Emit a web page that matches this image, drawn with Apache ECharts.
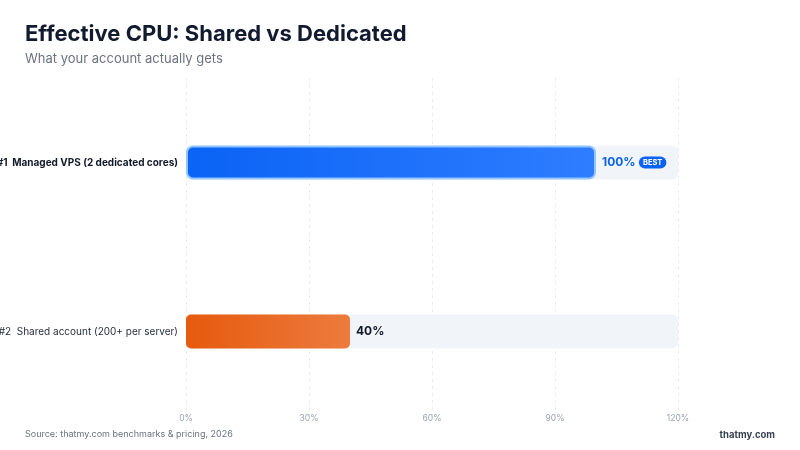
<!DOCTYPE html>
<html>
<head>
<meta charset="utf-8">
<script src="https://cdn.jsdelivr.net/npm/echarts@6/dist/echarts.min.js"></script>
<style>
  html, body { margin: 0; padding: 0; background: #fff; }
  #chart { width: 800px; height: 450px; }
</style>
</head>
<body>
<div id="chart"></div>
<script>
// data
const categories = ['#1  Managed VPS (2 dedicated cores)', '#2  Shared account (200+ per server)'];
const values = [100, 40];
const xTicks = [0, 30, 60, 90, 120];

const chart = echarts.init(document.getElementById('chart'));

const barStyles = [
  {
    color: new echarts.graphic.LinearGradient(0, 0, 1, 0, [
      { offset: 0, color: '#0a63f5' },
      { offset: 1, color: '#2f7dff' }
    ]),
    borderColor: '#93c5fd',
    borderWidth: 2,
    borderRadius: 6
  },
  {
    color: new echarts.graphic.LinearGradient(0, 0, 1, 0, [
      { offset: 0, color: '#e65a0e' },
      { offset: 1, color: '#ec7b3d' }
    ]),
    borderRadius: 5
  }
];

const option = {
  animation: false,
  textStyle: { fontFamily: 'Inter, "Noto Sans", sans-serif' },
  title: [
    {
      text: 'Effective CPU: Shared vs Dedicated',
      subtext: 'What your account actually gets',
      left: 20, top: 18,
      itemGap: 8,
      textStyle: { fontSize: 22, fontWeight: 'bold', color: '#111a2e' },
      subtextStyle: { fontSize: 13, color: '#6b7280' }
    }
  ],
  graphic: [
    {
      type: 'text', left: 25, top: 430,
      style: { text: 'Source: thatmy.com benchmarks & pricing, 2026', fontSize: 9, fill: '#6b7280', fontFamily: 'Inter, sans-serif' }
    },
    {
      type: 'text', right: 25, top: 430,
      style: { text: 'thatmy.com', fontSize: 9.5, fontWeight: 'bold', fill: '#374151', fontFamily: 'Inter, sans-serif' }
    }
  ],
  grid: { left: 186, right: 122, top: 78, height: 338, outerBoundsMode: 'none', containLabel: false },
  xAxis: {
    type: 'value',
    min: xTicks[0],
    max: xTicks[xTicks.length - 1],
    interval: 30,
    axisLine: { show: false },
    axisTick: { show: false },
    axisLabel: { formatter: '{value}%', color: '#9ca3af', fontSize: 8.5, margin: -2 },
    splitLine: { show: true, lineStyle: { type: [3, 4], color: '#e8eaee' } }
  },
  yAxis: {
    type: 'category',
    inverse: true,
    data: categories,
    axisLine: { show: false },
    axisTick: { show: false },
    axisLabel: {
      margin: 8,
      formatter: function (v, i) {
        return i === 0 ? '{a|' + v + '}' : '{b|' + v + '}';
      },
      rich: {
        a: { fontSize: 10, fontWeight: 'bold', color: '#111827' },
        b: { fontSize: 10, color: '#1f2937' }
      }
    }
  },
  series: [{
    type: 'bar',
    barWidth: 34,
    showBackground: true,
    backgroundStyle: { color: '#f1f5f9', borderRadius: 6 },
    data: values.map(function (v, i) {
      return { value: v, itemStyle: barStyles[i] };
    }),
    label: {
      show: true,
      position: 'right',
      distance: 6,
      formatter: function (p) {
        return p.dataIndex === 0
          ? '{top|' + p.value + '%} {best|BEST}'
          : '{v|' + p.value + '%}';
      },
      rich: {
        top: { fontSize: 12, fontWeight: 'bold', color: '#0b63e5' },
        v: { fontSize: 12, fontWeight: 'bold', color: '#111827' },
        best: {
          fontSize: 7.5, fontWeight: 'bold', color: '#fff',
          backgroundColor: '#0a63f5', borderRadius: 7, padding: [2, 4]
        }
      }
    }
  }]
};

chart.setOption(option);
</script>
</body>
</html>
